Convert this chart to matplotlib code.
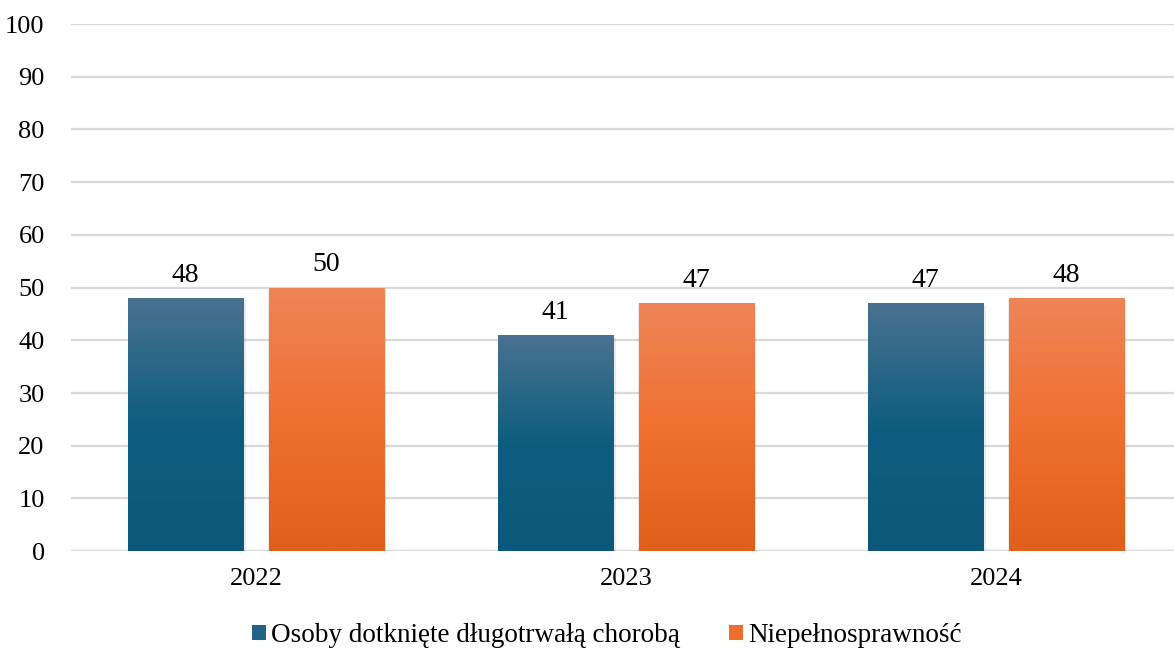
import matplotlib.pyplot as plt
import numpy as np
from matplotlib.colors import LinearSegmentedColormap
from matplotlib.patches import Patch

# data
years = ['2022', '2023', '2024']
chronic = [48, 41, 47]
disability = [50, 47, 48]
series_names = ['Osoby dotknięte długotrwałą chorobą', 'Niepełnosprawność']

plt.rcParams['font.family'] = ['Liberation Serif', 'DejaVu Serif']

blue_cmap = LinearSegmentedColormap.from_list('b', ['#0c587a', '#0e5d80', '#4a7290'])
orange_cmap = LinearSegmentedColormap.from_list('o', ['#e05f1a', '#f07030', '#ee8558'])

fig = plt.figure(figsize=(11.74, 6.5), dpi=100)
ax = fig.add_axes([0.0605, 0.152, 0.9455, 0.811])

x = np.arange(len(years))
w = 0.311
off = 0.19

grad = np.linspace(0, 1, 256).reshape(-1, 1)

def gradient_bars(xs, vals, cmap):
    bars = ax.bar(xs, vals, width=w, color='none', edgecolor='none', zorder=3)
    for b, v in zip(bars, vals):
        x0 = b.get_x()
        # soft shadow
        ax.bar(x0 + w / 2 + 0.003, v, width=w + 0.008, bottom=-0.4, color='#00000014',
               edgecolor='none', zorder=2)
        im = ax.imshow(grad, cmap=cmap, aspect='auto', origin='lower',
                       extent=[x0, x0 + w, 0, v], zorder=3)
        im.set_clip_path(b)
        ax.text(x0 + w / 2, v + 2.0, str(v), ha='center', va='bottom', fontsize=20, zorder=4)
    return bars

gradient_bars(x - off, chronic, blue_cmap)
gradient_bars(x + off, disability, orange_cmap)

ax.set_xlim(-0.5, 2.5)
ax.set_ylim(0, 100)
ax.set_yticks(np.arange(0, 101, 10))
ax.set_xticks(x)
ax.set_xticklabels(years)
ax.tick_params(axis='both', length=0, labelsize=19, colors='black')
ax.tick_params(axis='y', pad=19)
ax.tick_params(axis='x', pad=12)
ax.grid(axis='y', color='#d9d9d9', linewidth=1.6, zorder=0)
ax.set_axisbelow(True)
for s in ax.spines.values():
    s.set_visible(False)
ax.axhline(0, color='#d9d9d9', linewidth=1.6, zorder=1)

handles = [Patch(facecolor='#1f6388'), Patch(facecolor='#ec6f30')]
fig.legend(handles, series_names, loc='center', bbox_to_anchor=(0.517, 0.022),
           ncol=2, frameon=False, fontsize=19.5, handlelength=0.5, handleheight=0.5,
           handletextpad=0.2, columnspacing=1.8)

fig.savefig('out.png', dpi=100)
